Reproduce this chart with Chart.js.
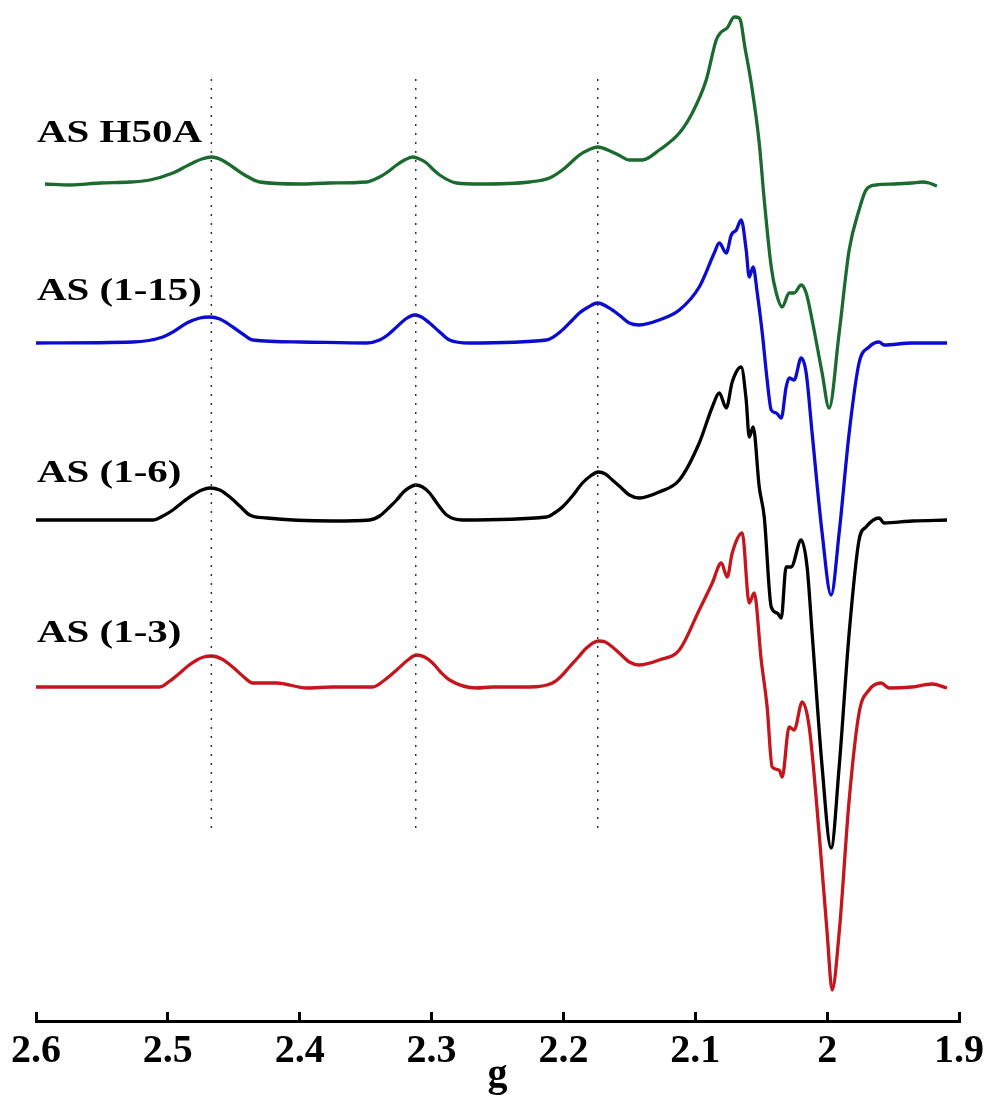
<!DOCTYPE html>
<html>
<head>
<meta charset="utf-8">
<script src="https://cdn.jsdelivr.net/npm/chart.js@4.4.1/dist/chart.umd.min.js"></script>
<style>
  html, body { margin: 0; padding: 0; background: #fff; }
  #wrap { width: 988px; height: 1097px; position: relative; }
</style>
</head>
<body>
<div id="wrap"><canvas id="epr" width="988" height="1097"></canvas></div>
<script>
// g-axis ticks
const gTicks = [2.6, 2.5, 2.4, 2.3, 2.2, 2.1, 2.0, 1.9];
const tickLabels = ['2.6', '2.5', '2.4', '2.3', '2.2', '2.1', '2', '1.9'];

// g values of the parallel hyperfine lines
const markerG = [2.467, 2.312, 2.174];

const sampleNames = ['AS H50A', 'AS (1-15)', 'AS (1-6)', 'AS (1-3)'];
const sampleColors = ['#1b6a2f', '#0c0cd0', '#000000', '#c4161c'];

// AS H50A
const h50aG = [2.5932,2.5742,2.5515,2.5288,2.5136,2.4962,2.4886,2.4811,2.4742,2.4667,2.4591,2.4508,2.4417,2.4303,2.4000,2.3773,2.3492,2.3394,2.3333,2.3265,2.3205,2.3144,2.3091,2.3038,2.2992,2.2939,2.2811,2.2636,2.2258,2.2106,2.2008,2.1947,2.1879,2.1811,2.1742,2.1629,2.1568,2.1500,2.1402,2.1273,2.1121,
  2.1023,2.0917,2.0841,2.0803,2.0758,2.0705,2.0667,2.0652,2.0629,2.0576,2.0515,2.0477,2.0424,2.0386,2.0341,2.0288,2.0250,2.0197,2.0159,2.0114,2.0038,1.9985,1.9909,1.9833,1.9758,1.9705,1.9629,1.9492,1.9356,1.9280,1.9227,1.9167];
const h50aI = [0,-1,1,2,4,11,16,21,25,27,24,17,9,2,0,1,2,7,12,19,24,27,25,21,15,9,1,0,2,6,14,21,29,34,37,32,28,24,24,34,51,
  71,104,144,152,156,167,166,161,141,101,41,-16,-83,-109,-123,-109,-109,-101,-109,-136,-189,-224,-149,-66,-26,-6,-1,0,1,2,1,-2];

// AS (1-15)
const as15G = [2.6,2.5265,2.5038,2.4962,2.4856,2.4758,2.4682,2.4606,2.4508,2.4432,2.4356,2.4000,2.3492,2.3394,2.3333,2.3265,2.3197,2.3129,2.3076,2.3015,2.2939,2.2864,2.2712,2.2129,2.2008,2.1947,2.1879,2.1811,2.1742,2.1629,2.1568,2.1500,2.1424,2.1273,2.1121,
  2.0970,2.0856,2.0818,2.0765,2.0727,2.0689,2.0652,2.0614,2.0591,2.0561,2.0530,2.0492,2.0455,2.0424,2.0386,2.0348,2.0311,2.0288,2.0250,2.0197,2.0159,2.0114,2.0038,1.9970,1.9909,1.9833,1.9758,1.9682,1.9606,1.9568,1.9356,1.9091];
const as15I = [-1,0,5,10,19,24,25,23,15,8,2,0,-1,2,7,15,23,27,25,19,10,2,-1,2,12,20,29,35,39,32,26,19,17,22,32,
  55,89,99,89,107,112,122,92,65,75,49,9,-38,-68,-71,-76,-45,-36,-38,-16,-31,-91,-191,-253,-191,-91,-21,-5,0,-3,-1,-1];

// AS (1-6)
const as6G = [2.6,2.5114,2.5038,2.4962,2.4886,2.4811,2.4742,2.4682,2.4606,2.4530,2.4455,2.4379,2.4250,2.3750,2.3470,2.3394,2.3318,2.3265,2.3220,2.3174,2.3121,2.3068,2.3015,2.2955,2.2886,2.2765,2.2129,2.2068,2.2008,2.1932,2.1856,2.1795,2.1735,2.1682,2.1629,2.1568,2.1500,2.1424,2.1273,2.1121,
  2.0970,2.0871,2.0818,2.0765,2.0720,2.0652,2.0614,2.0591,2.0561,2.0515,2.0477,2.0424,2.0379,2.0348,2.0311,2.0273,2.0197,2.0152,2.0114,2.0038,1.9970,1.9909,1.9833,1.9758,1.9705,1.9606,1.9568,1.9356,1.9091];
const as6I = [0,0,4,10,18,25,30,32,30,23,14,5,2,-1,0,4,13,20,27,32,35,33,27,16,5,0,3,7,13,24,37,44,48,46,40,33,25,22,28,40,
  77,113,127,112,138,153,120,83,93,33,3,-87,-93,-98,-47,-47,-20,-47,-113,-247,-328,-247,-113,-20,-7,2,-3,-1,0];

// AS (1-3)
const as3G = [2.6,2.5061,2.4985,2.4909,2.4848,2.4780,2.4727,2.4667,2.4591,2.4508,2.4432,2.4356,2.4174,2.3947,2.3750,2.3447,2.3356,2.3265,2.3189,2.3114,2.3053,2.2992,2.2932,2.2864,2.2659,2.2538,2.2258,2.2083,2.2023,2.1955,2.1886,2.1826,2.1735,2.1682,2.1629,2.1568,2.1500,2.1424,2.1273,2.1121,
  2.0970,2.0871,2.0803,2.0758,2.0720,2.0644,2.0591,2.0553,2.0500,2.0455,2.0417,2.0364,2.0341,2.0288,2.0250,2.0189,2.0136,2.0061,2.0000,1.9962,1.9909,1.9833,1.9758,1.9682,1.9591,1.9530,1.9356,1.9205,1.9091];
const as3I = [0,0,6,14,21,27,30,31,28,20,11,4,4,-1,0,0,7,17,26,32,30,24,15,7,-1,0,0,4,10,20,30,39,46,45,40,33,25,22,27,37,
  77,104,124,110,134,154,84,94,27,-20,-80,-83,-90,-40,-43,-15,-40,-146,-246,-303,-246,-113,-26,-3,4,-1,0,3,-1];

const sampleG = [h50aG, as15G, as6G, as3G];
const sampleI = [h50aI, as15I, as6I, as3I];

// vertical stacking of the traces (baseline of each spectrum)
const stackOffset = [837, 679, 501, 334];
const labelRise = [42, 42, 38, 45];
const markerSpan = [193, 943];

const spectra = sampleNames.map((name, k) => ({
  label: name,
  data: sampleG[k].map((g, i) => ({ x: g, y: stackOffset[k] + sampleI[k][i] })),
  borderColor: sampleColors[k],
  borderWidth: 3.3,
  pointRadius: 0,
  tension: 0.4,
  cubicInterpolationMode: 'monotone',
  borderJoinStyle: 'round',
  fill: false
}));

const markers = markerG.map(g => ({
  label: 'g ' + g,
  data: markerSpan.map(v => ({ x: g, y: v })),
  borderColor: '#333333',
  borderWidth: 1.5,
  borderDash: [2, 7],
  pointRadius: 0,
  tension: 0,
  fill: false
}));

const serif = '"Liberation Serif", "Times New Roman", serif';

// sample names written above each trace
const sampleLabelPlugin = {
  id: 'sampleLabels',
  afterDatasetsDraw(chart) {
    const { ctx, chartArea, scales } = chart;
    ctx.save();
    ctx.font = 'bold 32px ' + serif;
    ctx.fillStyle = '#000';
    ctx.textBaseline = 'alphabetic';
    ctx.textAlign = 'left';
    sampleNames.forEach((name, k) => {
      const py = scales.y.getPixelForValue(stackOffset[k] + labelRise[k]);
      ctx.save();
      ctx.translate(chartArea.left + 1, py);
      ctx.scale(1.28, 1);
      ctx.fillText(name, 0, 0);
      ctx.restore();
    });
    ctx.restore();
  }
};

new Chart(document.getElementById('epr'), {
  type: 'line',
  data: { datasets: [...markers, ...spectra] },
  plugins: [sampleLabelPlugin],
  options: {
    responsive: false,
    animation: false,
    devicePixelRatio: 1,
    layout: { padding: { left: 36, right: 28, top: 0, bottom: 0 } },
    plugins: { legend: { display: false }, tooltip: { enabled: false } },
    scales: {
      x: {
        type: 'linear',
        reverse: true,
        min: 1.9,
        max: 2.6,
        afterBuildTicks: s => { s.ticks = gTicks.map(v => ({ value: v })); },
        afterFit: s => { s.height = 76; },
        ticks: {
          callback: (v, i) => tickLabels[i],
          font: { family: serif, size: 40, weight: 'bold', lineHeight: 1.8 },
          color: '#000',
          padding: 4,
          maxRotation: 0,
          autoSkip: false
        },
        grid: { drawOnChartArea: false, drawTicks: true, tickLength: -9, lineWidth: 3, color: '#000' },
        border: { display: true, width: 3, color: '#000' },
        title: {
          display: true,
          text: 'g',
          font: { family: serif, size: 40, weight: 'bold', lineHeight: 1.2 },
          color: '#000',
          padding: { top: 0, bottom: -3 }
        }
      },
      y: { type: 'linear', min: 0, max: 1021, display: false }
    }
  }
});
</script>
</body>
</html>
